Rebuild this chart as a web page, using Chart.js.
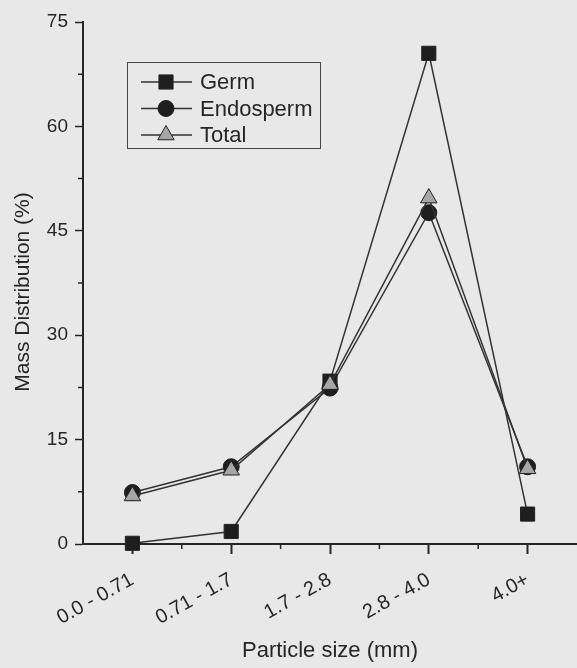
<!DOCTYPE html>
<html lang="en">
<head>
    <meta charset="UTF-8">
    <title>Mass Distribution by Particle Size</title>
    <script src="https://cdn.jsdelivr.net/npm/chart.js@4.4.3/dist/chart.umd.min.js"></script>
    <style>
        body { margin: 0; background: #e8e8e8; }
        #wrap { width: 577px; height: 668px; }
    </style>
</head>
<body>
    <div id="wrap">
        <canvas id="massChart" width="577" height="668"></canvas>
    </div>
    <script>
        // Particle size classes (mm) and mass distribution (%)
        const tamanos = ['0.0 - 0.71', '0.71 - 1.7', '1.7 - 2.8', '2.8 - 4.0', '4.0+'];
        const germ = [0.1, 1.8, 23.4, 70.5, 4.3];
        const endosperm = [7.4, 11.1, 22.4, 47.6, 11.1];
        const total = [6.9, 10.6, 22.9, 49.7, 10.8];
        const yTicks = [0, 15, 30, 45, 60, 75];
        const yMinor = [7.5, 22.5, 37.5, 52.5, 67.5];

        const FONT = "'Liberation Sans', Arial, sans-serif";
        const INK = '#262626';

        // fondo gris de toda la figura
        const fondo = {
            id: 'fondo',
            beforeDraw(chart) {
                const ctx = chart.ctx;
                ctx.save();
                ctx.fillStyle = '#e8e8e8';
                ctx.fillRect(0, 0, chart.width, chart.height);
                ctx.restore();
            }
        };

        // marcas menores, leyenda con recuadro y titulo del eje y
        const extras = {
            id: 'extras',
            afterDraw(chart) {
                const ctx = chart.ctx;
                const x = chart.scales.x, y = chart.scales.y;
                const area = chart.chartArea;
                ctx.save();
                ctx.strokeStyle = INK;
                ctx.lineWidth = 1.5;
                ctx.beginPath();
                yMinor.forEach(v => {
                    const py = y.getPixelForValue(v);
                    ctx.moveTo(area.left - 5, py);
                    ctx.lineTo(area.left, py);
                });
                for (let i = 0; i < tamanos.length - 1; i++) {
                    const px = (x.getPixelForValue(i) + x.getPixelForValue(i + 1)) / 2;
                    ctx.moveTo(px, area.bottom);
                    ctx.lineTo(px, area.bottom + 5);
                }
                ctx.stroke();

                // leyenda
                const lx = 127, ly = 62, lw = 193, lh = 86;
                ctx.lineWidth = 1;
                ctx.strokeStyle = '#444';
                ctx.strokeRect(lx + 0.5, ly + 0.5, lw, lh);
                chart.data.datasets.forEach((ds, i) => {
                    const cy = 82 + i * 26.5;
                    ctx.strokeStyle = ds.borderColor;
                    ctx.lineWidth = 1.5;
                    ctx.beginPath();
                    ctx.moveTo(141, cy);
                    ctx.lineTo(192, cy);
                    ctx.stroke();
                    ctx.fillStyle = ds.pointBackgroundColor;
                    ctx.strokeStyle = ds.pointBorderColor;
                    ctx.lineWidth = 1;
                    Chart.helpers.drawPoint(ctx, {
                        pointStyle: ds.pointStyle,
                        radius: ds.pointRadius,
                        borderWidth: 1
                    }, 166, cy);
                    ctx.fillStyle = INK;
                    ctx.font = '22px ' + FONT;
                    ctx.textBaseline = 'middle';
                    ctx.textAlign = 'left';
                    ctx.fillText(ds.label, 200, cy + 1);
                });

                // titulo del eje y
                ctx.translate(23, 292);
                ctx.rotate(-Math.PI / 2);
                ctx.fillStyle = INK;
                ctx.font = '21px ' + FONT;
                ctx.textAlign = 'center';
                ctx.textBaseline = 'middle';
                ctx.fillText('Mass Distribution (%)', 0, 0);
                ctx.restore();
            }
        };

        const serie = (label, data, style, radius, fill, order) => ({
            label: label,
            data: data,
            borderColor: '#333',
            borderWidth: 1.5,
            pointStyle: style,
            pointRadius: radius,
            pointHoverRadius: radius,
            pointBackgroundColor: fill,
            pointBorderColor: '#222',
            pointBorderWidth: 1,
            tension: 0,
            fill: false,
            clip: false,
            order: order
        });

        new Chart(document.getElementById('massChart'), {
            type: 'line',
            data: {
                labels: tamanos,
                datasets: [
                    serie('Germ', germ, 'rect', 10, '#1e1e1e', 2),
                    serie('Endosperm', endosperm, 'circle', 8, '#1e1e1e', 3),
                    serie('Total', total, 'triangle', 9.5, '#a6a6a6', 1)
                ]
            },
            options: {
                responsive: false,
                animation: false,
                devicePixelRatio: 1,
                layout: {
                    autoPadding: false,
                    padding: { top: 22, right: -4, bottom: 0, left: 0 }
                },
                plugins: {
                    legend: { display: false },
                    tooltip: { enabled: false }
                },
                scales: {
                    x: {
                        type: 'category',
                        offset: true,
                        grid: {
                            offset: false,
                            drawOnChartArea: false,
                            tickLength: 10,
                            tickColor: INK,
                            tickWidth: 2
                        },
                        border: { display: true, color: INK, width: 2 },
                        ticks: {
                            color: INK,
                            font: { family: FONT, size: 20 },
                            minRotation: 29,
                            maxRotation: 29,
                            padding: 14
                        },
                        title: {
                            display: true,
                            text: 'Particle size (mm)',
                            color: INK,
                            font: { family: FONT, size: 22 },
                            padding: { top: 0, bottom: 4 }
                        },
                        afterFit(scale) {
                            scale.height = 124;
                            scale.paddingLeft = 0;
                            scale.paddingRight = 0;
                        }
                    },
                    y: {
                        min: 0,
                        max: 75,
                        afterBuildTicks(scale) {
                            scale.ticks = yTicks.map(v => ({ value: v }));
                        },
                        grid: {
                            drawOnChartArea: false,
                            tickLength: 8,
                            tickColor: INK,
                            tickWidth: 1.5
                        },
                        border: { display: true, color: INK, width: 2 },
                        ticks: {
                            color: INK,
                            font: { family: FONT, size: 19 },
                            padding: 7
                        },
                        afterFit(scale) { scale.width = 83; }
                    }
                }
            },
            plugins: [fondo, extras]
        });
    </script>
</body>
</html>
